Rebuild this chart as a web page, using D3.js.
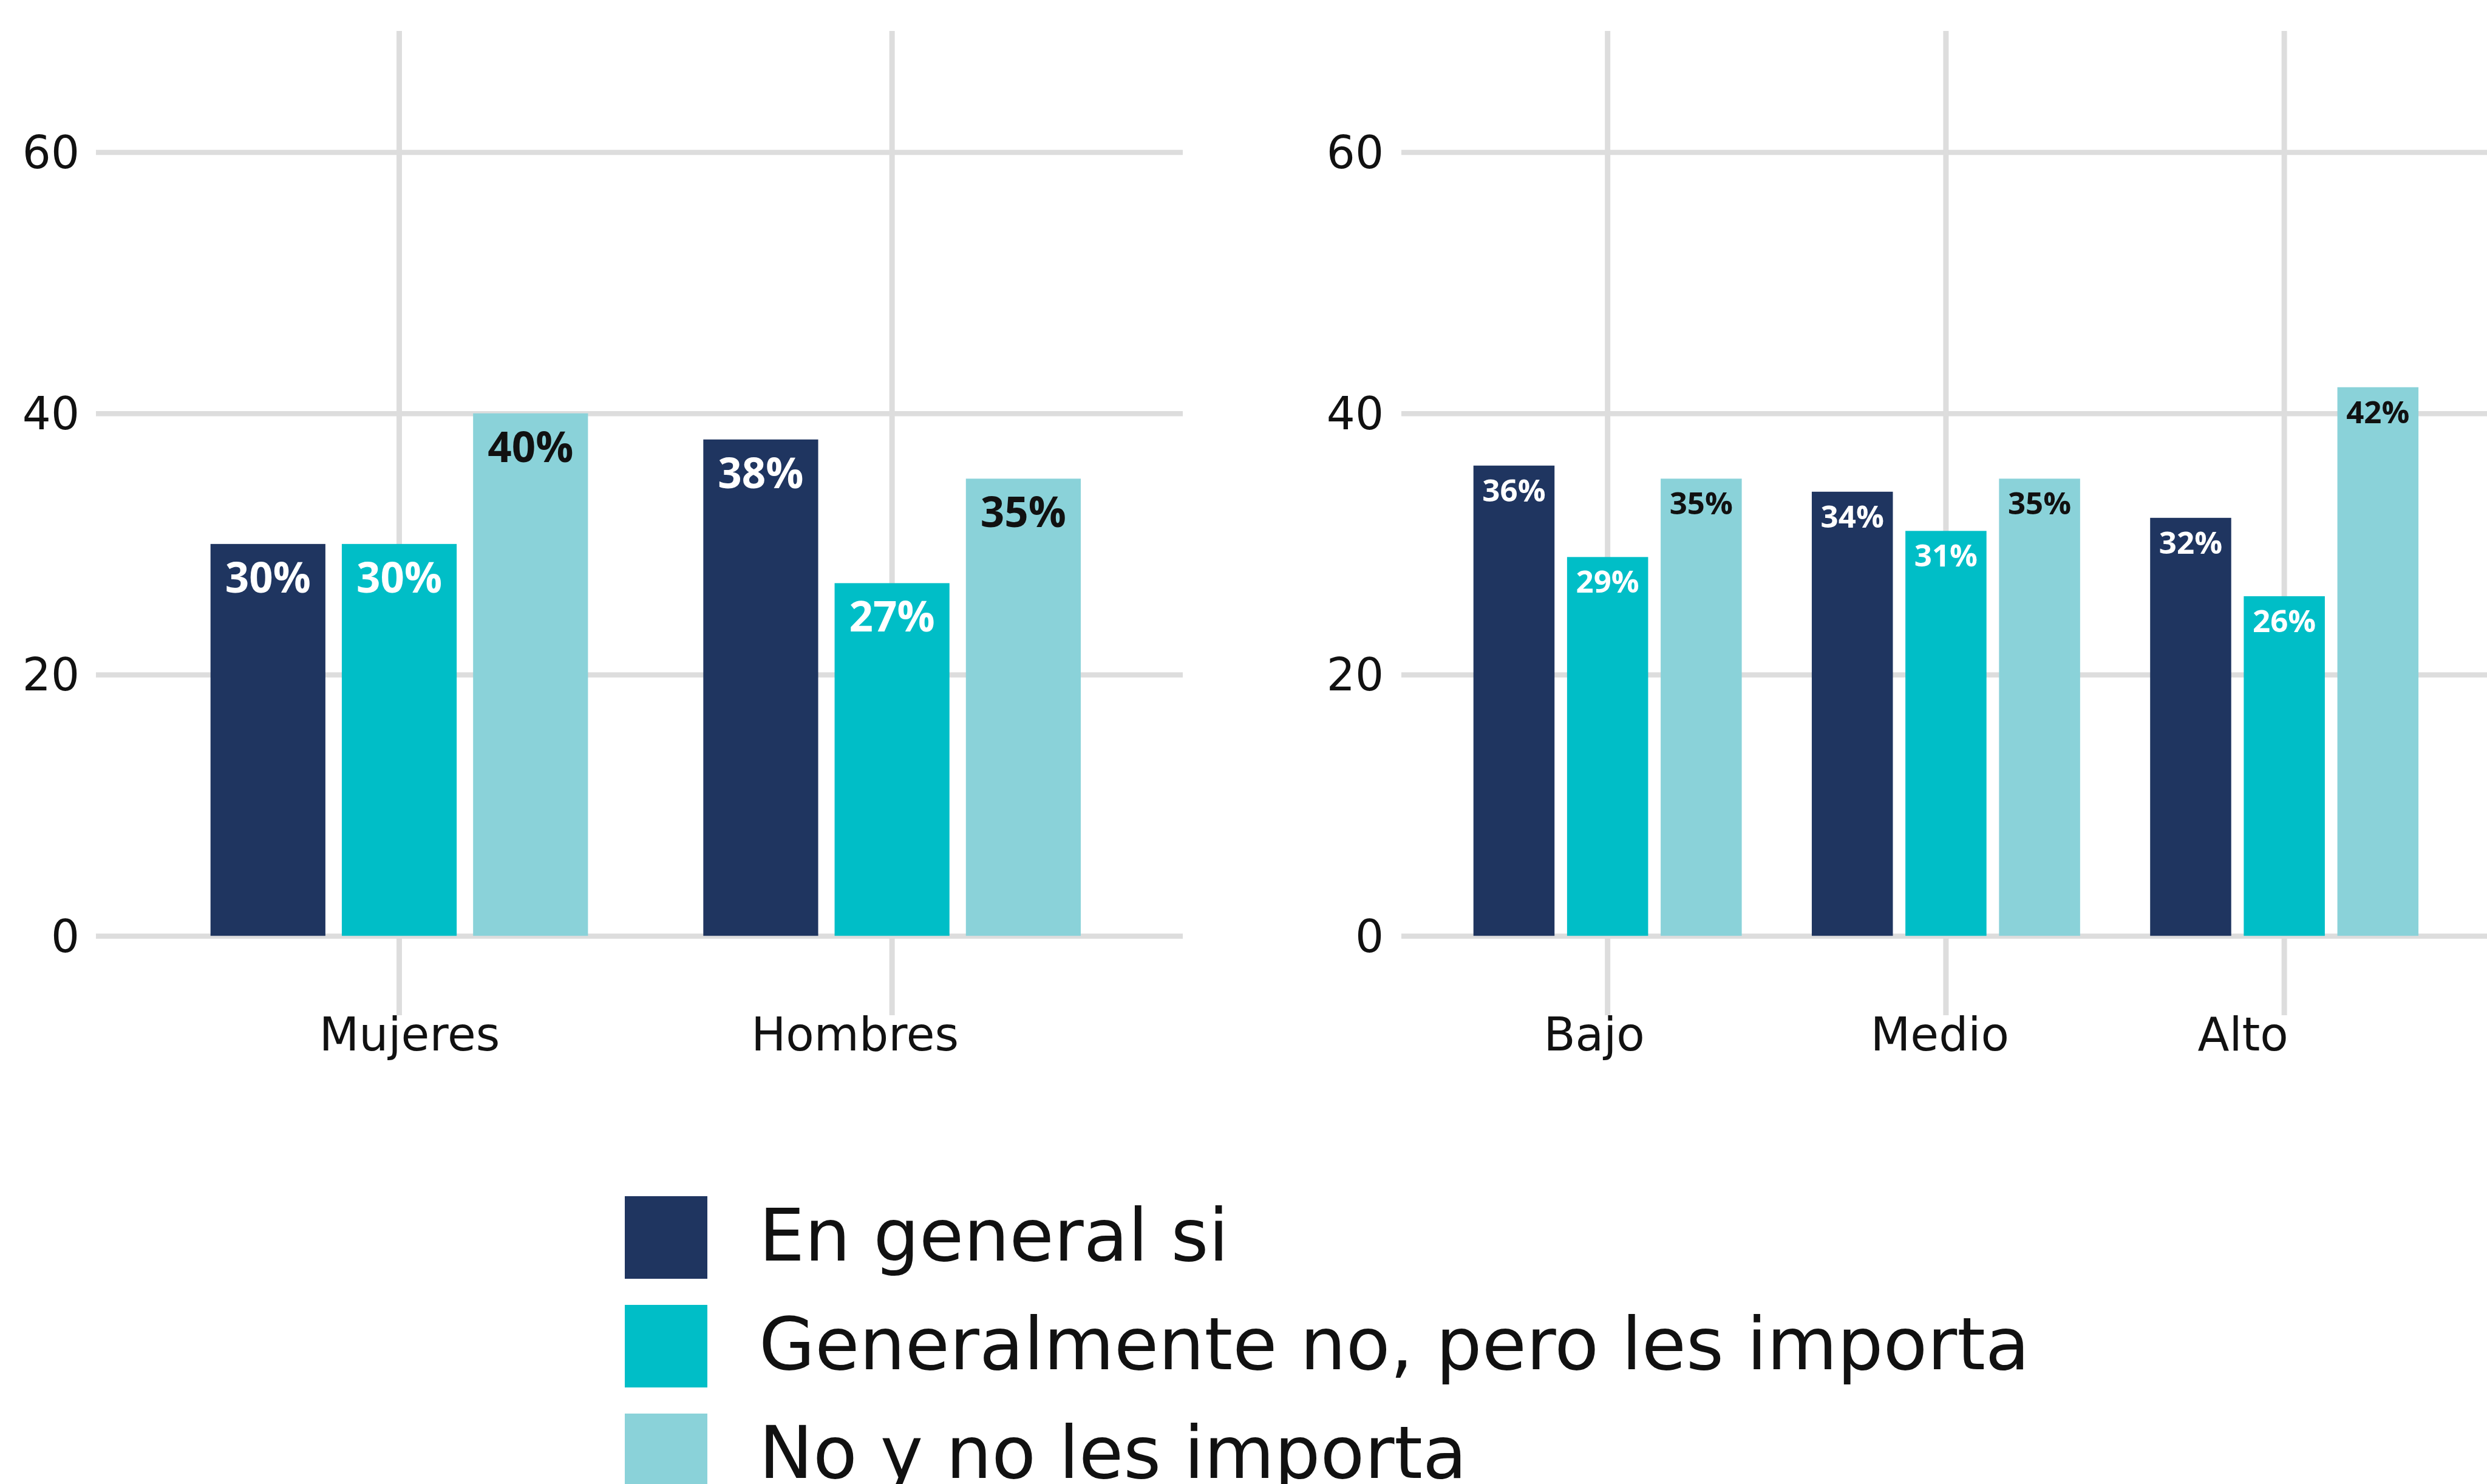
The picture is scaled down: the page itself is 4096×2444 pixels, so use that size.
<!DOCTYPE html>
<html lang="es">
<head>
<meta charset="utf-8">
<title>Gráfico de barras agrupadas</title>
<script src="https://cdn.jsdelivr.net/npm/d3@7"></script>
<style>
  html, body { margin: 0; padding: 0; background: #ffffff; }
  svg { display: block; }
</style>
</head>
<body>
<svg id="chart" width="4096" height="2444"></svg>
<script>
// ---- Datos ----
const seriesNames = ["En general si", "Generalmente no, pero les importa", "No y no les importa"];

const sexoCats = ["Mujeres", "Hombres"];
const sexoSi = [30, 38];
const sexoNoPeroImporta = [30, 27];
const sexoNoNoImporta = [40, 35];

const nivelCats = ["Bajo", "Medio", "Alto"];
const nivelSi = [36, 34, 32];
const nivelNoPeroImporta = [29, 31, 26];
const nivelNoNoImporta = [35, 35, 42];

const yTicks = [0, 20, 40, 60];

// ---- Estilo ----
const colors = ["#1f3560", "#00bec7", "#8ad2d9"];
const labelColors = ["#ffffff", "#ffffff", "#111111"];
const gridColor = "#dddddd";
const textColor = "#111111";
const sansFont = "'DejaVu Sans', sans-serif";
const boldFont = "'Open Sans', sans-serif";

const svg = d3.select("#chart");
const W = 4096, H = 2444;

const y = d3.scaleLinear().domain([0, 60]).range([1541.2, 250.5]);

// Each panel: its own category band, grid extents and label sizes
const panels = [
  {
    cats: sexoCats,
    values: [sexoSi, sexoNoPeroImporta, sexoNoNoImporta],
    range: [346.7, 1780],
    outerPad: 0.234,
    innerPad: 0.125,
    gridX: [158, 1948],
    tickX: 131,
    labelSize: 69,
    labelDy: 80,
    catShift: [17, -61]
  },
  {
    cats: nivelCats,
    values: [nivelSi, nivelNoPeroImporta, nivelNoNoImporta],
    range: [2426.7, 3983.1],
    outerPad: 0.207,
    innerPad: 0.134,
    gridX: [2308, W],
    tickX: 2279,
    labelSize: 51,
    labelDy: 59,
    catShift: [-22, -10, -68]
  }
];

panels.forEach(p => {
  const g = svg.append("g");

  const x0 = d3.scaleBand()
    .domain(p.cats)
    .range(p.range)
    .paddingInner(p.outerPad)
    .paddingOuter(0);

  const x1 = d3.scaleBand()
    .domain(d3.range(seriesNames.length))
    .range([0, x0.bandwidth()])
    .paddingInner(p.innerPad)
    .paddingOuter(0);

  // horizontal grid + y tick labels
  const yAxis = d3.axisLeft(y)
    .tickValues(yTicks)
    .tickSize(-(p.gridX[1] - p.gridX[0]))
    .tickPadding(p.gridX[0] - p.tickX)
    .tickFormat(d3.format("d"));

  const ga = g.append("g")
    .attr("transform", `translate(${p.gridX[0]},0)`)
    .call(yAxis);
  ga.select(".domain").remove();
  ga.selectAll(".tick line")
    .attr("stroke", gridColor)
    .attr("stroke-width", 8.5);
  ga.selectAll(".tick text")
    .attr("fill", textColor)
    .attr("font-family", sansFont)
    .attr("font-size", 74)
    .attr("dy", null)
    .attr("dominant-baseline", "auto")
    .attr("y", 26);

  // vertical grid at each category
  g.append("g").selectAll("line")
    .data(p.cats)
    .join("line")
    .attr("x1", d => x0(d) + x0.bandwidth() / 2)
    .attr("x2", d => x0(d) + x0.bandwidth() / 2)
    .attr("y1", 51)
    .attr("y2", 1672)
    .attr("stroke", gridColor)
    .attr("stroke-width", 9);

  // category labels
  g.append("g").selectAll("text")
    .data(p.cats)
    .join("text")
    .attr("x", (d, i) => x0(d) + x0.bandwidth() / 2 + p.catShift[i])
    .attr("y", 1730)
    .attr("text-anchor", "middle")
    .attr("font-family", sansFont)
    .attr("font-size", 76)
    .attr("fill", textColor)
    .text(d => d);

  // bars
  const rows = [];
  p.cats.forEach((c, ci) => {
    p.values.forEach((vals, si) => rows.push({ cat: c, s: si, v: vals[ci] }));
  });

  const bars = g.append("g");
  bars.selectAll("rect")
    .data(rows)
    .join("rect")
    .attr("x", d => x0(d.cat) + x1(d.s))
    .attr("y", d => y(d.v))
    .attr("width", x1.bandwidth())
    .attr("height", d => y(0) - y(d.v))
    .attr("fill", d => colors[d.s]);

  bars.selectAll("text")
    .data(rows)
    .join("text")
    .attr("x", d => x0(d.cat) + x1(d.s) + x1.bandwidth() / 2)
    .attr("y", d => y(d.v) + p.labelDy)
    .attr("text-anchor", "middle")
    .attr("font-family", boldFont)
    .attr("font-weight", 700)
    .attr("font-size", p.labelSize)
    .attr("fill", d => labelColors[d.s])
    .text(d => d.v + "%");
});

// legend
const legend = svg.append("g").attr("transform", "translate(1029,1970)");
const item = legend.selectAll("g")
  .data(seriesNames)
  .join("g")
  .attr("transform", (d, i) => `translate(0,${i * 179})`);
item.append("rect")
  .attr("width", 136)
  .attr("height", 136)
  .attr("fill", (d, i) => colors[i]);
item.append("text")
  .attr("x", 221)
  .attr("y", 106)
  .attr("font-family", sansFont)
  .attr("font-size", 119)
  .attr("fill", textColor)
  .text(d => d);
</script>
</body>
</html>
